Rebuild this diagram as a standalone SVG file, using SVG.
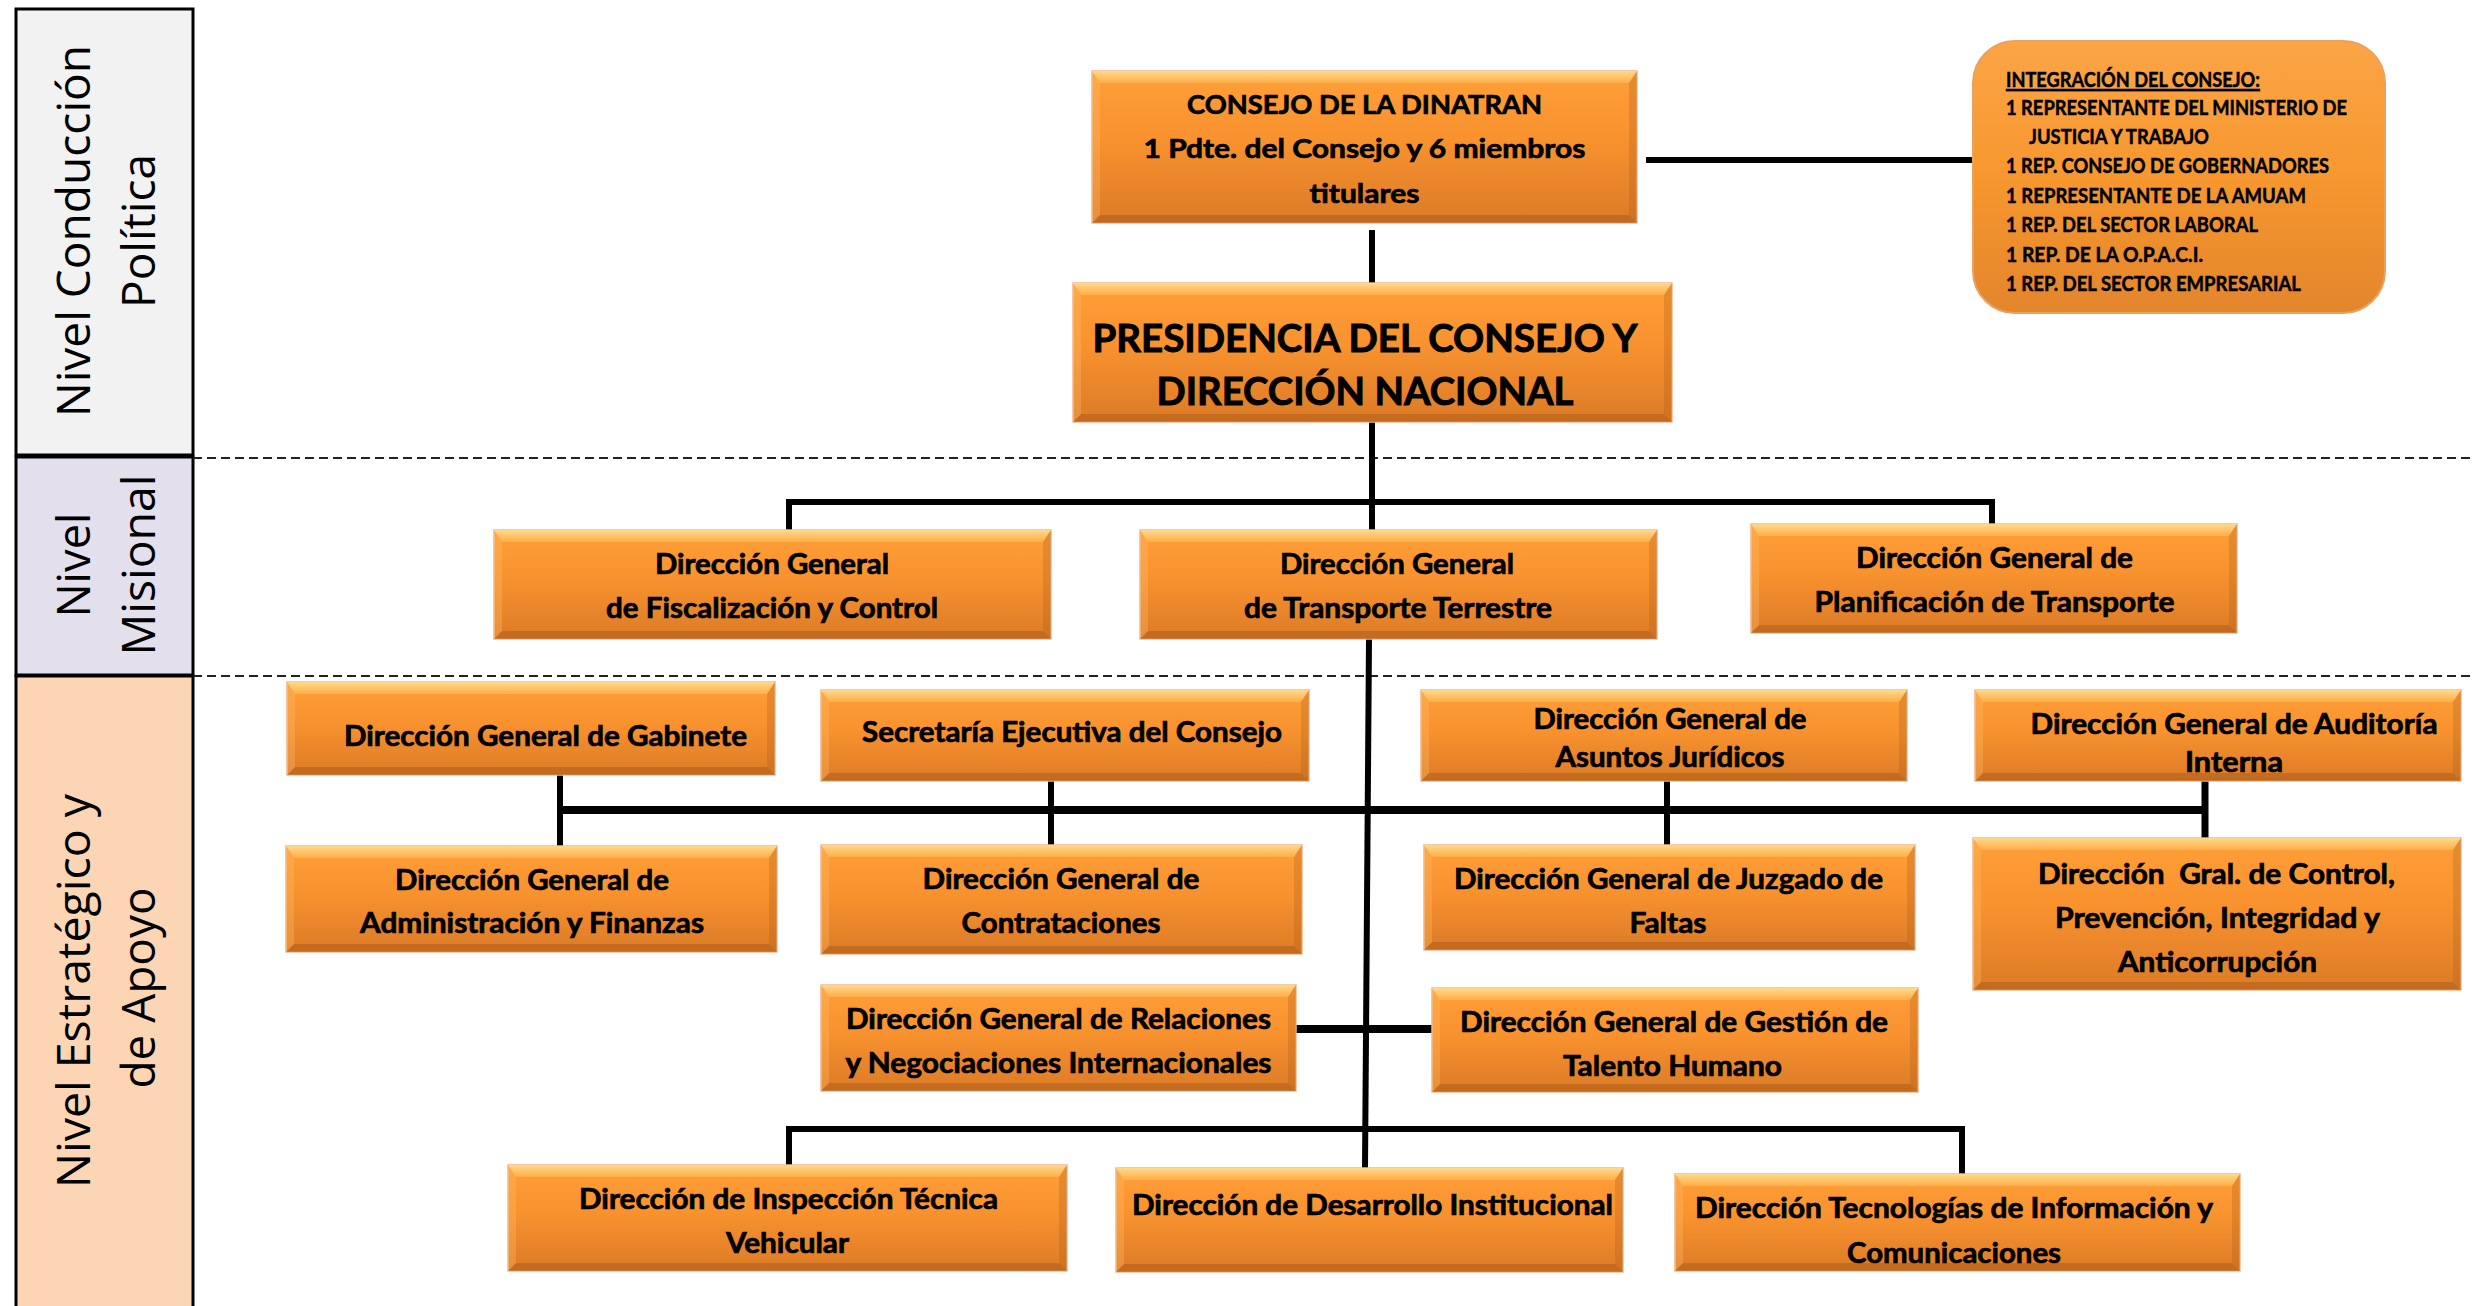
<svg xmlns="http://www.w3.org/2000/svg" width="2475" height="1306" viewBox="0 0 2475 1306">
<defs>
<linearGradient id="gBody" x1="0" y1="0" x2="0" y2="1">
<stop offset="0" stop-color="#FF9F38"/><stop offset="0.45" stop-color="#F8922F"/><stop offset="1" stop-color="#DC7B27"/>
</linearGradient>
<linearGradient id="gTop" x1="0" y1="0" x2="0" y2="1">
<stop offset="0" stop-color="#FFD98C"/><stop offset="1" stop-color="#FDAE48"/>
</linearGradient>
<linearGradient id="gRound" x1="0" y1="0" x2="0" y2="1">
<stop offset="0" stop-color="#FBA546"/><stop offset="0.5" stop-color="#F7972F"/><stop offset="1" stop-color="#E3852C"/>
</linearGradient>
<style>
.panel{stroke:#000;stroke-width:3}
.lbl{font-family:"Open Sans","Liberation Sans",sans-serif;font-size:45px;fill:#000;text-anchor:middle}
.body{fill:url(#gBody);stroke:#F2B88A;stroke-width:1.5}
.bt{fill:url(#gTop)}
.bb{fill:#B0601C;opacity:.6}
.bl{fill:#FFC070;opacity:.3}
.br{fill:#B0601C;opacity:.3}
.t{font-family:Lato,"Open Sans","Liberation Sans",sans-serif;font-weight:700;font-size:28px;fill:#000;stroke:#000;stroke-width:0.7;text-anchor:middle}
.t2{font-family:Lato,"Open Sans","Liberation Sans",sans-serif;font-weight:700;font-size:21px;fill:#000;stroke:#000;stroke-width:0.5}
.c{stroke:#000;fill:none}
.dash{stroke:#222;stroke-width:2;stroke-dasharray:9 5;fill:none}
</style>
</defs>
<rect width="2475" height="1306" fill="#fff"/>

<g id="levels">
<rect class="panel" x="16" y="9" width="177" height="446" fill="#F2F2F2"/>
<rect class="panel" x="16" y="457" width="177" height="218" fill="#E4DFEC"/>
<rect class="panel" x="16" y="676" width="177" height="640" fill="#FCD5B4"/>
<text class="lbl" transform="translate(90,231) rotate(-90)" textLength="372" lengthAdjust="spacingAndGlyphs">Nivel Conducción</text>
<text class="lbl" transform="translate(155,231) rotate(-90)" textLength="154" lengthAdjust="spacingAndGlyphs">Política</text>
<text class="lbl" transform="translate(90,565) rotate(-90)" textLength="105" lengthAdjust="spacingAndGlyphs">Nivel</text>
<text class="lbl" transform="translate(155,565) rotate(-90)" textLength="181" lengthAdjust="spacingAndGlyphs">Misional</text>
<text class="lbl" transform="translate(90,991) rotate(-90)" textLength="394" lengthAdjust="spacingAndGlyphs">Nivel Estratégico y</text>
<text class="lbl" transform="translate(155,988) rotate(-90)" textLength="201" lengthAdjust="spacingAndGlyphs">de Apoyo</text>
<line class="dash" x1="193" y1="458" x2="2475" y2="458"/>
<line class="dash" x1="193" y1="676" x2="2475" y2="676"/>
</g>

<g id="connectors">
<line class="c" x1="1646" y1="160" x2="1973" y2="160" stroke-width="6"/>
<line class="c" x1="1372" y1="230" x2="1372" y2="283" stroke-width="6"/>
<line class="c" x1="1372" y1="422" x2="1372" y2="530" stroke-width="6"/>
<polyline class="c" points="789,530 789,502 1992,502 1992,524" stroke-width="6"/>
<line class="c" x1="1369" y1="639" x2="1365" y2="1168" stroke-width="6"/>
<line class="c" x1="560" y1="810" x2="2208" y2="810" stroke-width="8"/>
<line class="c" x1="560" y1="775" x2="560" y2="846" stroke-width="6"/>
<line class="c" x1="1051" y1="781" x2="1051" y2="845" stroke-width="6"/>
<line class="c" x1="1667" y1="781" x2="1667" y2="845" stroke-width="6"/>
<line class="c" x1="2205" y1="781" x2="2205" y2="838" stroke-width="7"/>
<line class="c" x1="1296" y1="1029" x2="1432" y2="1029" stroke-width="8"/>
<polyline class="c" points="789,1165 789,1129 1962,1129 1962,1174" stroke-width="6"/>
</g>

<g id="consejo">
<rect class="body" x="1092" y="71" width="545" height="152"/>
<polygon class="bt" points="1092,71 1637,71 1629,83 1100,83"/>
<polygon class="bb" points="1092,223 1637,223 1629,215 1100,215"/>
<polygon class="bl" points="1092,71 1100,83 1100,215 1092,223"/>
<polygon class="br" points="1637,71 1629,83 1629,215 1637,223"/>
<text class="t" style="font-size:27px" x="1364.5" y="114" textLength="355" lengthAdjust="spacingAndGlyphs">CONSEJO DE LA DINATRAN</text>
<text class="t" style="font-size:27px" x="1364.5" y="158" textLength="442" lengthAdjust="spacingAndGlyphs">1 Pdte. del Consejo y 6 miembros</text>
<text class="t" style="font-size:27px" x="1364.5" y="203" textLength="110" lengthAdjust="spacingAndGlyphs">titulares</text>
</g>

<g id="integracion">
<rect x="1973" y="41" width="412" height="272" rx="42" fill="url(#gRound)" stroke="#E9A25E" stroke-width="2"/>
<text class="t2" x="2006" y="87" textLength="254" lengthAdjust="spacingAndGlyphs" text-decoration="underline">INTEGRACIÓN DEL CONSEJO:</text>
<text class="t2" x="2006" y="115" textLength="341" lengthAdjust="spacingAndGlyphs">1 REPRESENTANTE DEL MINISTERIO DE</text>
<text class="t2" x="2029" y="144" textLength="180" lengthAdjust="spacingAndGlyphs">JUSTICIA Y TRABAJO</text>
<text class="t2" x="2006" y="173" textLength="323" lengthAdjust="spacingAndGlyphs">1 REP. CONSEJO DE GOBERNADORES</text>
<text class="t2" x="2006" y="203" textLength="300" lengthAdjust="spacingAndGlyphs">1 REPRESENTANTE DE LA AMUAM</text>
<text class="t2" x="2006" y="232" textLength="252" lengthAdjust="spacingAndGlyphs">1 REP. DEL SECTOR LABORAL</text>
<text class="t2" x="2006" y="262" textLength="197" lengthAdjust="spacingAndGlyphs">1 REP. DE LA O.P.A.C.I.</text>
<text class="t2" x="2006" y="291" textLength="295" lengthAdjust="spacingAndGlyphs">1 REP. DEL SECTOR EMPRESARIAL</text>
</g>

<g id="presidencia">
<rect class="body" x="1073" y="283" width="599" height="139"/>
<polygon class="bt" points="1073,283 1672,283 1664,295 1081,295"/>
<polygon class="bb" points="1073,422 1672,422 1664,414 1081,414"/>
<polygon class="bl" points="1073,283 1081,295 1081,414 1073,422"/>
<polygon class="br" points="1672,283 1664,295 1664,414 1672,422"/>
<text class="t" style="font-size:38px;stroke-width:0.9" x="1365" y="352" textLength="545" lengthAdjust="spacingAndGlyphs">PRESIDENCIA DEL CONSEJO Y</text>
<text class="t" style="font-size:38px;stroke-width:0.9" x="1365" y="405" textLength="417" lengthAdjust="spacingAndGlyphs">DIRECCIÓN NACIONAL</text>
</g>

<g id="fiscalizacion">
<rect class="body" x="494" y="530" width="557" height="109"/>
<polygon class="bt" points="494,530 1051,530 1043,542 502,542"/>
<polygon class="bb" points="494,639 1051,639 1043,631 502,631"/>
<polygon class="bl" points="494,530 502,542 502,631 494,639"/>
<polygon class="br" points="1051,530 1043,542 1043,631 1051,639"/>
<text class="t" x="772" y="574" textLength="234" lengthAdjust="spacingAndGlyphs">Dirección General</text>
<text class="t" x="772" y="618" textLength="332" lengthAdjust="spacingAndGlyphs">de Fiscalización y Control</text>
</g>

<g id="transporte">
<rect class="body" x="1140" y="530" width="517" height="109"/>
<polygon class="bt" points="1140,530 1657,530 1649,542 1148,542"/>
<polygon class="bb" points="1140,639 1657,639 1649,631 1148,631"/>
<polygon class="bl" points="1140,530 1148,542 1148,631 1140,639"/>
<polygon class="br" points="1657,530 1649,542 1649,631 1657,639"/>
<text class="t" x="1397" y="574" textLength="234" lengthAdjust="spacingAndGlyphs">Dirección General</text>
<text class="t" x="1398" y="618" textLength="308" lengthAdjust="spacingAndGlyphs">de Transporte Terrestre</text>
</g>

<g id="planificacion">
<rect class="body" x="1751" y="524" width="486" height="109"/>
<polygon class="bt" points="1751,524 2237,524 2229,536 1759,536"/>
<polygon class="bb" points="1751,633 2237,633 2229,625 1759,625"/>
<polygon class="bl" points="1751,524 1759,536 1759,625 1751,633"/>
<polygon class="br" points="2237,524 2229,536 2229,625 2237,633"/>
<text class="t" x="1994.5" y="568" textLength="277" lengthAdjust="spacingAndGlyphs">Dirección General de</text>
<text class="t" x="1994.5" y="612" textLength="360" lengthAdjust="spacingAndGlyphs">Planificación de Transporte</text>
</g>

<g id="gabinete">
<rect class="body" x="287" y="682" width="488" height="93"/>
<polygon class="bt" points="287,682 775,682 767,694 295,694"/>
<polygon class="bb" points="287,775 775,775 767,767 295,767"/>
<polygon class="bl" points="287,682 295,694 295,767 287,775"/>
<polygon class="br" points="775,682 767,694 767,767 775,775"/>
<text class="t" x="545.5" y="746" textLength="403" lengthAdjust="spacingAndGlyphs">Dirección General de Gabinete</text>
</g>

<g id="secretaria">
<rect class="body" x="821" y="690" width="488" height="91"/>
<polygon class="bt" points="821,690 1309,690 1301,702 829,702"/>
<polygon class="bb" points="821,781 1309,781 1301,773 829,773"/>
<polygon class="bl" points="821,690 829,702 829,773 821,781"/>
<polygon class="br" points="1309,690 1301,702 1301,773 1309,781"/>
<text class="t" x="1072" y="742" textLength="420" lengthAdjust="spacingAndGlyphs">Secretaría Ejecutiva del Consejo</text>
</g>

<g id="juridicos">
<rect class="body" x="1421" y="690" width="486" height="91"/>
<polygon class="bt" points="1421,690 1907,690 1899,702 1429,702"/>
<polygon class="bb" points="1421,781 1907,781 1899,773 1429,773"/>
<polygon class="bl" points="1421,690 1429,702 1429,773 1421,781"/>
<polygon class="br" points="1907,690 1899,702 1899,773 1907,781"/>
<text class="t" x="1670" y="729" textLength="273" lengthAdjust="spacingAndGlyphs">Dirección General de</text>
<text class="t" x="1670" y="767" textLength="229" lengthAdjust="spacingAndGlyphs">Asuntos Jurídicos</text>
</g>

<g id="auditoria">
<rect class="body" x="1975" y="690" width="486" height="91"/>
<polygon class="bt" points="1975,690 2461,690 2453,702 1983,702"/>
<polygon class="bb" points="1975,781 2461,781 2453,773 1983,773"/>
<polygon class="bl" points="1975,690 1983,702 1983,773 1975,781"/>
<polygon class="br" points="2461,690 2453,702 2453,773 2461,781"/>
<text class="t" x="2234" y="734" textLength="407" lengthAdjust="spacingAndGlyphs">Dirección General de Auditoría</text>
<text class="t" x="2234" y="772" textLength="98" lengthAdjust="spacingAndGlyphs">Interna</text>
</g>

<g id="admfinanzas">
<rect class="body" x="286" y="846" width="491" height="106"/>
<polygon class="bt" points="286,846 777,846 769,858 294,858"/>
<polygon class="bb" points="286,952 777,952 769,944 294,944"/>
<polygon class="bl" points="286,846 294,858 294,944 286,952"/>
<polygon class="br" points="777,846 769,858 769,944 777,952"/>
<text class="t" x="532" y="890" textLength="274" lengthAdjust="spacingAndGlyphs">Dirección General de</text>
<text class="t" x="532" y="933" textLength="344" lengthAdjust="spacingAndGlyphs">Administración y Finanzas</text>
</g>

<g id="contrataciones">
<rect class="body" x="821" y="845" width="481" height="109"/>
<polygon class="bt" points="821,845 1302,845 1294,857 829,857"/>
<polygon class="bb" points="821,954 1302,954 1294,946 829,946"/>
<polygon class="bl" points="821,845 829,857 829,946 821,954"/>
<polygon class="br" points="1302,845 1294,857 1294,946 1302,954"/>
<text class="t" x="1061" y="889" textLength="277" lengthAdjust="spacingAndGlyphs">Dirección General de</text>
<text class="t" x="1061" y="933" textLength="199" lengthAdjust="spacingAndGlyphs">Contrataciones</text>
</g>

<g id="juzgado">
<rect class="body" x="1424" y="845" width="491" height="105"/>
<polygon class="bt" points="1424,845 1915,845 1907,857 1432,857"/>
<polygon class="bb" points="1424,950 1915,950 1907,942 1432,942"/>
<polygon class="bl" points="1424,845 1432,857 1432,942 1424,950"/>
<polygon class="br" points="1915,845 1907,857 1907,942 1915,950"/>
<text class="t" x="1668.5" y="889" textLength="429" lengthAdjust="spacingAndGlyphs">Dirección General de Juzgado de</text>
<text class="t" x="1668" y="933" textLength="77" lengthAdjust="spacingAndGlyphs">Faltas</text>
</g>

<g id="control">
<rect class="body" x="1973" y="838" width="488" height="152"/>
<polygon class="bt" points="1973,838 2461,838 2453,850 1981,850"/>
<polygon class="bb" points="1973,990 2461,990 2453,982 1981,982"/>
<polygon class="bl" points="1973,838 1981,850 1981,982 1973,990"/>
<polygon class="br" points="2461,838 2453,850 2453,982 2461,990"/>
<text class="t" x="2216.5" y="884" textLength="357" lengthAdjust="spacingAndGlyphs" xml:space="preserve">Dirección  Gral. de Control,</text>
<text class="t" x="2217.5" y="928" textLength="325" lengthAdjust="spacingAndGlyphs">Prevención, Integridad y</text>
<text class="t" x="2217.5" y="972" textLength="199" lengthAdjust="spacingAndGlyphs">Anticorrupción</text>
</g>

<g id="relaciones">
<rect class="body" x="821" y="985" width="475" height="106"/>
<polygon class="bt" points="821,985 1296,985 1288,997 829,997"/>
<polygon class="bb" points="821,1091 1296,1091 1288,1083 829,1083"/>
<polygon class="bl" points="821,985 829,997 829,1083 821,1091"/>
<polygon class="br" points="1296,985 1288,997 1288,1083 1296,1091"/>
<text class="t" x="1058.5" y="1029" textLength="425" lengthAdjust="spacingAndGlyphs">Dirección General de Relaciones</text>
<text class="t" x="1058.5" y="1073" textLength="426" lengthAdjust="spacingAndGlyphs">y Negociaciones Internacionales</text>
</g>

<g id="talento">
<rect class="body" x="1432" y="988" width="486" height="104"/>
<polygon class="bt" points="1432,988 1918,988 1910,1000 1440,1000"/>
<polygon class="bb" points="1432,1092 1918,1092 1910,1084 1440,1084"/>
<polygon class="bl" points="1432,988 1440,1000 1440,1084 1432,1092"/>
<polygon class="br" points="1918,988 1910,1000 1910,1084 1918,1092"/>
<text class="t" x="1674" y="1032" textLength="428" lengthAdjust="spacingAndGlyphs">Dirección General de Gestión de</text>
<text class="t" x="1672.5" y="1076" textLength="219" lengthAdjust="spacingAndGlyphs">Talento Humano</text>
</g>

<g id="inspeccion">
<rect class="body" x="508" y="1165" width="559" height="106"/>
<polygon class="bt" points="508,1165 1067,1165 1059,1177 516,1177"/>
<polygon class="bb" points="508,1271 1067,1271 1059,1263 516,1263"/>
<polygon class="bl" points="508,1165 516,1177 516,1263 508,1271"/>
<polygon class="br" points="1067,1165 1059,1177 1059,1263 1067,1271"/>
<text class="t" x="788.5" y="1209" textLength="419" lengthAdjust="spacingAndGlyphs">Dirección de Inspección Técnica</text>
<text class="t" x="787.5" y="1253" textLength="123" lengthAdjust="spacingAndGlyphs">Vehicular</text>
</g>

<g id="desarrollo">
<rect class="body" x="1116" y="1168" width="507" height="104"/>
<polygon class="bt" points="1116,1168 1623,1168 1615,1180 1124,1180"/>
<polygon class="bb" points="1116,1272 1623,1272 1615,1264 1124,1264"/>
<polygon class="bl" points="1116,1168 1124,1180 1124,1264 1116,1272"/>
<polygon class="br" points="1623,1168 1615,1180 1615,1264 1623,1272"/>
<text class="t" x="1372.5" y="1215" textLength="481" lengthAdjust="spacingAndGlyphs">Dirección de Desarrollo Institucional</text>
</g>

<g id="tic">
<rect class="body" x="1675" y="1174" width="565" height="97"/>
<polygon class="bt" points="1675,1174 2240,1174 2232,1186 1683,1186"/>
<polygon class="bb" points="1675,1271 2240,1271 2232,1263 1683,1263"/>
<polygon class="bl" points="1675,1174 1683,1186 1683,1263 1675,1271"/>
<polygon class="br" points="2240,1174 2232,1186 2232,1263 2240,1271"/>
<text class="t" x="1954" y="1218" textLength="518" lengthAdjust="spacingAndGlyphs">Dirección Tecnologías de Información y</text>
<text class="t" x="1954" y="1263" textLength="214" lengthAdjust="spacingAndGlyphs">Comunicaciones</text>
</g>
</svg>
